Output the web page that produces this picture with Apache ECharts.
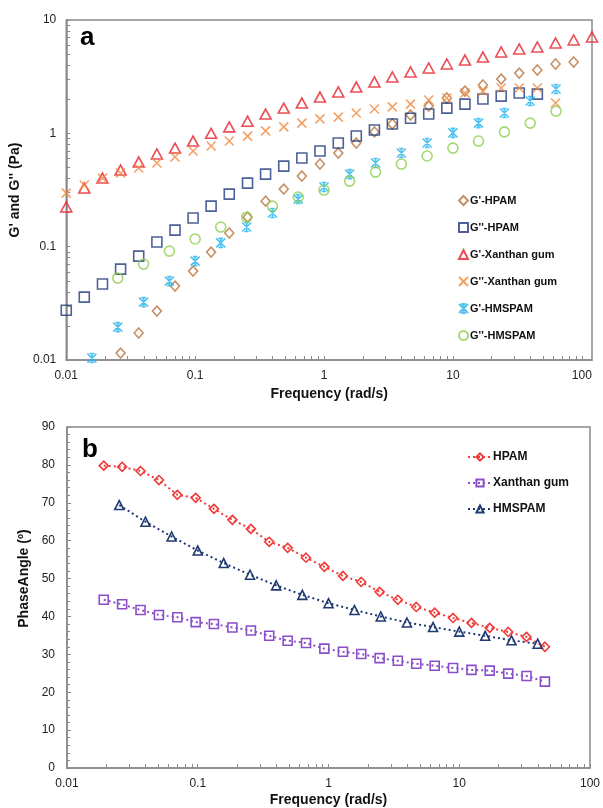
<!DOCTYPE html>
<html>
<head>
<meta charset="utf-8">
<script src="https://cdn.jsdelivr.net/npm/echarts@6/dist/echarts.min.js"></script>
<style>
  html, body { margin: 0; padding: 0; background: #fff; }
  #main { width: 603px; height: 808px; }
</style>
</head>
<body>
<div id="main"></div>
<script>
// frequency grids (rad/s)
var freqA = [0.01, 0.0138, 0.0191, 0.0264, 0.0365, 0.0505, 0.0698, 0.0964, 0.133, 0.184,
    0.255, 0.352, 0.487, 0.673, 0.930, 1.29, 1.78, 2.46, 3.39, 4.69,
    6.49, 8.97, 12.4, 17.1, 23.7, 32.7, 45.2, 62.6, 86.5, 120];
var freqB = [0.0158, 0.0251, 0.0398, 0.0631, 0.1, 0.158, 0.251, 0.398, 0.631, 1,
    1.58, 2.51, 3.98, 6.31, 10, 15.8, 25.1, 39.8, 63.1];

// panel a: moduli (Pa)
var hpamGp = [0.0115, 0.0173, 0.027, 0.0449, 0.0609, 0.0896, 0.132, 0.182, 0.252, 0.322,
    0.42, 0.536, 0.67, 0.821, 1.03, 1.21, 1.45, 1.74, 2.05, 2.36, 2.67, 3.01, 3.4, 3.62, 4.09, 4.26];
var hpamGpp = [0.0275, 0.0359, 0.0468, 0.0634, 0.0826, 0.11, 0.14, 0.179, 0.228, 0.291,
    0.364, 0.437, 0.514, 0.605, 0.698, 0.821, 0.946, 1.07, 1.21, 1.36, 1.48, 1.67, 1.81, 2.01, 2.13, 2.27, 2.22];
var xanGp = [0.224, 0.329, 0.403, 0.474, 0.558, 0.657, 0.741, 0.855, 1.0, 1.14,
    1.28, 1.48, 1.67, 1.85, 2.09, 2.32, 2.56, 2.84, 3.14, 3.48,
    3.77, 4.09, 4.43, 4.71, 5.22, 5.55, 5.78, 6.27, 6.66, 7.08];
var xanGpp = [0.297, 0.35, 0.403, 0.447, 0.494, 0.547, 0.618, 0.698, 0.773, 0.855,
    0.946, 1.05, 1.14, 1.23, 1.34, 1.39, 1.51, 1.64, 1.71, 1.81,
    1.97, 2.05, 2.27, 2.36, 2.51, 2.51, 2.51, 1.85];
var hmsGp = [0.0104, 0.0195, 0.0324, 0.0497, 0.0746, 0.108, 0.149, 0.198, 0.263, 0.336,
    0.437, 0.547, 0.67, 0.821, 1.01, 1.23, 1.51, 1.93, 2.46];
var hmsGpp = [0.0528, 0.0702, 0.0914, 0.117, 0.149, 0.182, 0.228, 0.274, 0.316, 0.379,
    0.455, 0.536, 0.631, 0.741, 0.855, 1.03, 1.23, 1.57];

// panel b: phase angle (deg)
var phHpam = [79.8, 79.5, 78.4, 76.0, 72.1, 71.3, 68.4, 65.5, 63.1, 59.7, 58.1, 55.5, 53.1,
    50.7, 49.1, 46.5, 44.4, 42.5, 41.0, 39.6, 38.3, 37.0, 35.9, 34.6, 32.0];
var phXan = [44.4, 43.2, 41.7, 40.4, 39.8, 38.5, 38.0, 37.1, 36.3, 34.9, 33.6, 33.0, 31.5,
    30.7, 30.1, 29.0, 28.3, 27.5, 27.0, 26.4, 25.9, 25.7, 24.9, 24.3, 22.8];
var phHms = [69.4, 65.0, 61.1, 57.4, 54.1, 51.0, 48.2, 45.7, 43.5, 41.7, 40.0, 38.4, 37.2,
    36.0, 34.9, 33.7, 32.8];

var freqLabels = [0.01, 0.1, 1, 10, 100];
var modLabels = [0.01, 0.1, 1, 10];

var pairs = function (xs, ys) {
    return ys.map(function (y, i) { return [xs[i], y]; });
};

// 1..9 per decade for minor ticks
var decadeTicks = function (lo, hi) {
    var out = [];
    for (var d = lo; d < hi; d++) {
        for (var k = 1; k < 10; k++) out.push(+(k * Math.pow(10, d)).toPrecision(2));
    }
    out.push(Math.pow(10, hi));
    return out;
};

var fmt = function (v) { return String(parseFloat((+v).toPrecision(2))); };
var font = 'Liberation Sans, Arial, sans-serif';
var axisGray = '#8a8a8a';

var logAxis = function (grid, min, max, labels, ticks, extra) {
    var a = {
        type: 'log', logBase: 10, gridIndex: grid, min: min, max: max,
        axisLine: {show: true, lineStyle: {color: axisGray, width: 1.5}},
        axisTick: {show: true, inside: true, length: 4, customValues: ticks,
            lineStyle: {color: axisGray}},
        axisLabel: {customValues: labels, formatter: fmt, color: '#222',
            fontSize: 12, fontFamily: font, margin: 10},
        splitLine: {show: false},
        minorTick: {show: false}, minorSplitLine: {show: false}
    };
    for (var k in extra) a[k] = extra[k];
    return a;
};

var nameStyle = {fontSize: 14, fontWeight: 'bold', color: '#111', fontFamily: font};

var hollow = function (c) {
    return {color: 'rgba(255,255,255,0)', borderColor: c, borderWidth: 1.6};
};

var xPath = 'path://M0,0L10,10M10,0L0,10';
var starPath = 'path://M0,0L10,10M10,0L0,10M5,0L5,10M2.5,0L7.5,0M2.5,10L7.5,10';

var scatter = function (name, data, symbol, size, c) {
    return {
        name: name, type: 'scatter', xAxisIndex: 0, yAxisIndex: 0,
        data: data, symbol: symbol, symbolSize: size,
        itemStyle: hollow(c), emphasis: {disabled: true}, z: 3
    };
};

var dotted = function (name, data, symbol, c) {
    return {
        name: name, type: 'line', xAxisIndex: 1, yAxisIndex: 1,
        data: data, symbol: symbol, symbolSize: 9, showAllSymbol: true,
        lineStyle: {color: c, width: 2, type: [2, 3]},
        itemStyle: hollow(c), emphasis: {disabled: true}
    };
};

var chart = echarts.init(document.getElementById('main'), null, {renderer: 'canvas'});

chart.setOption({
    backgroundColor: '#fff',
    animation: false,
    textStyle: {fontFamily: font},
    grid: [
        {left: 60, top: 20, width: 532, height: 340, show: true,
            borderColor: axisGray, borderWidth: 1.5, containLabel: false},
        {left: 67, top: 427, width: 527, height: 341, show: true,
            borderColor: axisGray, borderWidth: 1.5, containLabel: false}
    ],
    xAxis: [
        logAxis(0, 0.01, 120, freqLabels, decadeTicks(-2, 2), {
            name: 'Frequency (rad/s)', nameLocation: 'middle', nameGap: 27,
            nameTextStyle: nameStyle
        }),
        logAxis(1, 0.01, 100, freqLabels, decadeTicks(-2, 2), {
            name: 'Frequency (rad/s)', nameLocation: 'middle', nameGap: 25,
            nameTextStyle: nameStyle
        })
    ],
    yAxis: [
        logAxis(0, 0.01, 10, modLabels, decadeTicks(-2, 1), {
            name: "G' and G'' (Pa)", nameLocation: 'middle', nameGap: 33,
            nameTextStyle: nameStyle
        }),
        {
            type: 'value', gridIndex: 1, min: 0, max: 90, interval: 10,
            name: 'PhaseAngle (º)', nameLocation: 'middle', nameGap: 33,
            nameTextStyle: {fontSize: 14, fontWeight: 'bold', color: '#111',
                fontFamily: font, padding: [0, 0, 0, 38]},
            axisLine: {show: true, lineStyle: {color: axisGray, width: 1.5}},
            axisTick: {show: true, inside: true, length: 4, lineStyle: {color: axisGray}},
            minorTick: {show: true, splitNumber: 5, length: 3, lineStyle: {color: axisGray}},
            axisLabel: {color: '#222', fontSize: 12, fontFamily: font, margin: 12},
            splitLine: {show: false}
        }
    ],
    legend: [
        {
            seriesIndex: [0, 1, 2, 3, 4, 5],
            data: ["G'-HPAM", "G''-HPAM", "G'-Xanthan gum", "G''-Xanthan gum", "G'-HMSPAM", "G''-HMSPAM"],
            orient: 'vertical', left: 453, top: 190,
            itemWidth: 9, itemHeight: 9, itemGap: 16,
            textStyle: {fontSize: 11, fontWeight: 'bold', color: '#111', fontFamily: font, padding: [0, 0, 0, -3]},
            selectedMode: false
        },
        {
            data: ['HPAM', 'Xanthan gum', 'HMSPAM'],
            orient: 'vertical', left: 462, top: 446,
            itemWidth: 24, itemHeight: 9, itemGap: 14,
            textStyle: {fontSize: 12, fontWeight: 'bold', color: '#111', fontFamily: font, padding: [0, 0, 0, -4]},
            selectedMode: false
        }
    ],
    graphic: [
        {type: 'text', left: 80, top: 25,
            style: {text: 'a', fontSize: 26, fontWeight: 'bold', fill: '#000', fontFamily: font}},
        {type: 'text', left: 82, top: 437,
            style: {text: 'b', fontSize: 26, fontWeight: 'bold', fill: '#000', fontFamily: font}}
    ],
    series: [
        scatter("G'-HPAM", pairs(freqA.slice(3), hpamGp), 'diamond', [9, 10], '#b8733d'),
        scatter("G''-HPAM", pairs(freqA, hpamGpp), 'rect', 10, '#1f3a7a'),
        scatter("G'-Xanthan gum", pairs(freqA, xanGp), 'triangle', [11, 10], '#e8202a'),
        scatter("G''-Xanthan gum", pairs(freqA, xanGpp), xPath, 9, '#f08a40'),
        scatter("G'-HMSPAM", pairs(freqB, hmsGp), starPath, 9, '#22b4ee'),
        scatter("G''-HMSPAM", pairs(freqB.slice(1), hmsGpp), 'circle', 10, '#8fd050'),
        dotted('HPAM', pairs(freqA.slice(2), phHpam), 'diamond', '#f03a3a'),
        dotted('Xanthan gum', pairs(freqA.slice(2), phXan), 'rect', '#8a4fc8'),
        dotted('HMSPAM', pairs(freqB.slice(1), phHms), 'triangle', '#1f3a72')
    ]
});
</script>
</body>
</html>
